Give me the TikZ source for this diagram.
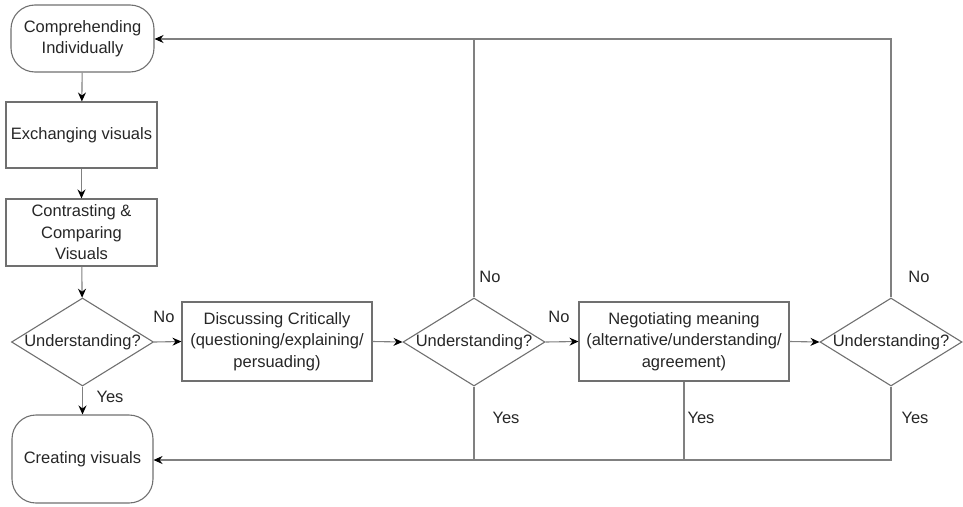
\documentclass[tikz,border=0pt]{standalone}
\usepackage{fontspec}
\setmainfont{Liberation Sans}
\usetikzlibrary{shapes.geometric,arrows.meta}
\definecolor{edgegray}{HTML}{808080}
\definecolor{boxgray}{HTML}{707070}
\definecolor{ink}{HTML}{262626}
\begin{document}
\begin{tikzpicture}[x=1pt,y=-1pt,
  txt/.style={text=ink,font=\fontsize{16.5}{21.5}\selectfont,align=center,inner sep=0pt},
  stepbox/.style={txt,draw=boxgray,line width=1.1pt,rectangle,inner sep=0pt},
  termbox/.style={stepbox,rounded corners=24pt},
  decision/.style={draw=boxgray,line width=1.1pt,diamond,inner sep=0pt,minimum width=142pt,minimum height=88pt},
  flow/.style={draw=edgegray,line width=1.1pt},
  arrowflow/.style={flow,-{Stealth[length=9pt,width=8pt,inset=3pt,color=black]}},
  lbl/.style={txt,anchor=center}]
\useasboundingbox (0,0) rectangle (963,506);

% process steps
\node[termbox,minimum width=143pt,minimum height=67pt] (comp) at (82.5,38.5) {Comprehending\\Individually};
\node[stepbox,minimum width=151pt,minimum height=66pt] (exch) at (81.5,135) {Exchanging visuals};
\node[stepbox,minimum width=151pt,minimum height=67pt] (contr) at (81.5,232.5) {Contrasting \&\\Comparing\\Visuals};
\node[decision] (d1) at (82.5,342) {};
\node[txt] at (d1) {Understanding?};
\node[termbox,minimum width=141pt,minimum height=88pt] (create) at (82.5,459) {Creating visuals};
\node[stepbox,minimum width=190pt,minimum height=79pt] (disc) at (277,341.5) {Discussing Critically\\(questioning/explaining/\\persuading)};
\node[decision] (d2) at (474,342) {};
\node[txt] at (d2) {Understanding?};
\node[stepbox,minimum width=210pt,minimum height=79pt] (neg) at (684,341.5) {Negotiating meaning\\(alternative/understanding/\\agreement)};
\node[decision] (d3) at (891,342) {};
\node[txt] at (d3) {Understanding?};

% routing corners
\coordinate (topR) at (891,39);
\coordinate (topM) at (474,39);
\coordinate (botR) at (891,460);
\coordinate (botM) at (474,460);
\coordinate (botN) at (684,460);

% main column
\draw[arrowflow] (comp) -- (exch);
\draw[arrowflow] (exch) -- (contr);
\draw[arrowflow] (contr) -- (d1);
\draw[arrowflow] (d1) -- (create);

% horizontal chain
\draw[arrowflow] (d1.east) -- (disc.west);
\draw[arrowflow] (disc.east) -- (d2.west);
\draw[arrowflow] (d2.east) -- (neg.west);
\draw[arrowflow] (neg.east) -- (d3.west);

% loops back to the top
\draw[arrowflow] (d3.north) -- (topR) -- (comp.east |- topR);
\draw[flow] (d2.north) -- (topM);

% paths to the final step
\draw[arrowflow] (d3.south) -- (botR) -- (create.east |- botR);
\draw[flow] (d2.south) -- (botM);
\draw[flow] (neg.south) -- (botN);

% branch labels
\node[lbl] (no1) at (164,317) {No};
\node[lbl] (no2) at (559,317) {No};
\node[lbl] (no3) at (490,277) {No};
\node[lbl] (no4) at (919,277) {No};
\node[lbl] (yes1) at (110,397) {Yes};
\node[lbl] (yes2) at (506,418) {Yes};
\node[lbl] (yes3) at (701,418) {Yes};
\node[lbl] (yes4) at (915,418) {Yes};
\end{tikzpicture}
\end{document}
